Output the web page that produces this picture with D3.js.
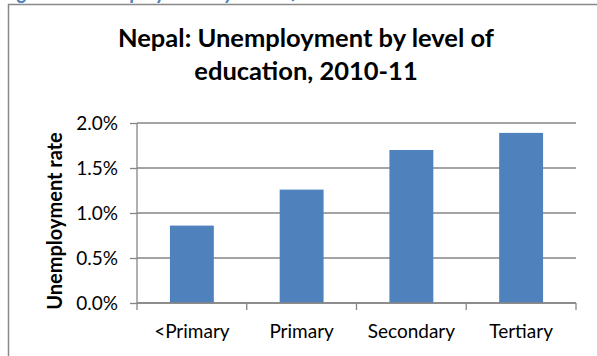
<!DOCTYPE html>
<html><head><meta charset="utf-8">
<script src="https://cdn.jsdelivr.net/npm/d3@7/dist/d3.min.js"></script>
<style>
html,body{margin:0;padding:0;background:#fff;}
svg{display:block;}
text{font-family:Lato,"Open Sans",sans-serif;fill:#000;}
</style></head>
<body>
<script>
const categories = ["<Primary", "Primary", "Secondary", "Tertiary"];
const values = [0.86, 1.26, 1.70, 1.89];
const yTicks = [0, 0.5, 1.0, 1.5, 2.0];
const titleLines = ["Nepal: Unemployment by level of", "education, 2010-11"];
const yTitle = "Unemployment rate";
const captionText = "Figure 8: Unemployment by level of education";

const W = 597, H = 356;
const svg = d3.select("body").append("svg").attr("width", W).attr("height", H);

// caption above the chart box, mostly cut off
svg.append("clipPath").attr("id","capclip").append("rect").attr("x",0).attr("y",0).attr("width",W).attr("height",4);
svg.append("text").attr("clip-path","url(#capclip)")
  .attr("x", 2).attr("y", -1)
  .style("font-weight","bold").style("font-style","italic").style("font-size","20px")
  .style("fill","#4F81BD").text(captionText);

// chart frame
svg.append("path").attr("d", `M8.5,${H} V4.5 H${W}`).attr("fill","none").attr("stroke","#898989").attr("stroke-width",1.5);

const m = {left:137, right:576, top:123, bottom:303};
const x = d3.scaleBand().domain(categories).range([m.left, m.right]).paddingInner(0.6).paddingOuter(0.3);
const y = d3.scaleLinear().domain([0, 2]).range([m.bottom, m.top]);

// gridlines
svg.append("g").selectAll("line").data(yTicks).join("line")
  .attr("x1", m.left).attr("x2", m.right)
  .attr("y1", d => y(d)).attr("y2", d => y(d))
  .attr("stroke", "#868686").attr("stroke-width", 1.3);

// bars
svg.append("g").selectAll("rect").data(values).join("rect")
  .attr("x", (d,i) => x(categories[i]))
  .attr("width", x.bandwidth())
  .attr("y", d => y(d))
  .attr("height", d => y(0) - y(d))
  .attr("fill", "#4F81BD");

// y axis
const yAxis = d3.axisLeft(y).tickValues(yTicks).tickSize(7).tickPadding(12)
  .tickFormat(d => d.toFixed(1) + "%");
const ga = svg.append("g").attr("transform", `translate(${m.left},0)`).call(yAxis);
ga.select(".domain").attr("stroke","#868686").attr("stroke-width",1.3).attr("d", `M0,${m.top}V${m.bottom}`);
ga.selectAll(".tick line").attr("stroke","#868686").attr("stroke-width",1.3);
ga.selectAll(".tick text").style("font-size","19px").style("font-family","Lato");

// x axis
const xAxis = d3.axisBottom(x).tickSize(0).tickPadding(22);
const gx = svg.append("g").attr("transform", `translate(0,${m.bottom})`).call(xAxis);
gx.select(".domain").attr("stroke","#868686").attr("stroke-width",1.3).attr("d", `M${m.left},0H${m.right}`);
gx.selectAll(".tick text").style("font-size","19px").style("font-family","Lato");
// category boundary ticks
const bounds = d3.range(categories.length + 1).map(i => m.left + i * (m.right - m.left) / categories.length);
gx.append("g").selectAll("line").data(bounds).join("line")
  .attr("x1", d => d).attr("x2", d => d).attr("y1", 0).attr("y2", 7)
  .attr("stroke","#868686").attr("stroke-width",1.3);

// y title
svg.append("text")
  .attr("transform", `translate(62,221) rotate(-90)`)
  .attr("text-anchor","middle")
  .style("font-weight","bold").style("font-size","20px")
  .text(yTitle);

// title
svg.append("g").selectAll("text").data(titleLines).join("text")
  .attr("x", 306).attr("y", (d,i) => 47 + i * 33)
  .attr("text-anchor","middle")
  .style("font-weight","bold").style("font-size","25.5px")
  .text(d => d);
</script>
</body></html>
